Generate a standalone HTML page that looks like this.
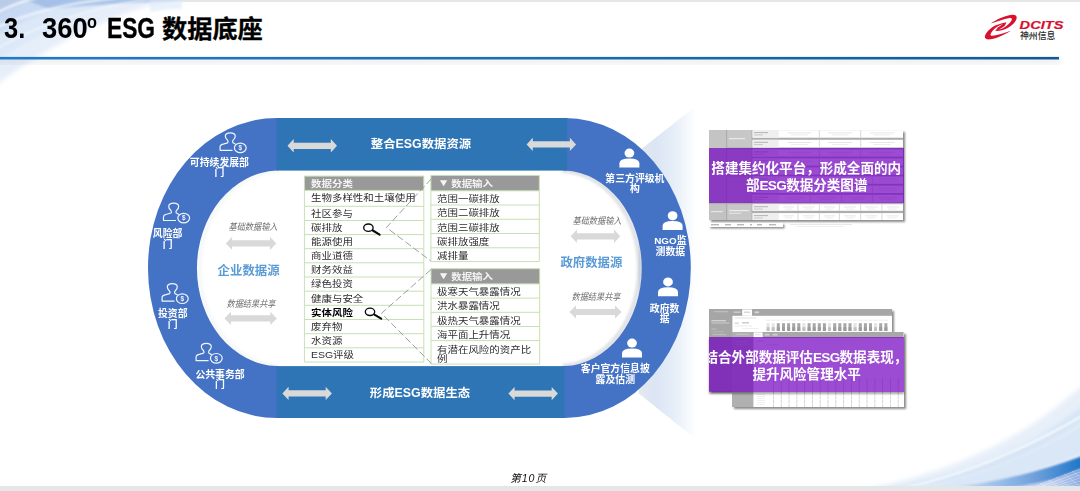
<!DOCTYPE html>
<html lang="zh-CN">
<head>
<meta charset="utf-8">
<title>3. 360º ESG 数据底座</title>
<style>
*{margin:0;padding:0;box-sizing:border-box}
html,body{width:1080px;height:491px;overflow:hidden;background:#fff}
body{position:relative;font-family:"Liberation Sans","Noto Sans CJK SC",sans-serif;color:#000}
.abs{position:absolute}
#bg{position:absolute;left:0;top:0;width:1080px;height:491px}
/* title */
#title span,#title sup{position:absolute;top:0;white-space:nowrap;font-weight:bold;font-size:26px;line-height:30px;transform-origin:0 50%}
/* tables */
.tx{position:absolute;white-space:nowrap;font-size:8.7px;line-height:12px;height:12px;color:#2b2b2b;transform-origin:0 50%;transform:scaleX(1.205)}
.tx.th{color:#f4f4f4;font-weight:bold}
.tx b{color:#000}
.tx.tw{line-height:9.4px;height:auto;transform-origin:0 0}
.tri{font-style:normal;font-size:10.2px;display:inline-block;width:12.6px;text-align:left;position:relative;left:1.2px;top:-.7px;font-weight:normal}
/* arc labels */
.lab{position:absolute;color:#fff;font-weight:bold;font-size:9.85px;line-height:10.6px;margin-top:.6px;text-align:center;white-space:nowrap;transform:translateX(-50%)}
.sm{position:absolute;margin-top:.2px;color:#707070;font-style:italic;font-size:9.3px;line-height:10px;white-space:nowrap;transform:translateX(-50%) scaleX(.875)}
.src{position:absolute;margin-top:.8px;color:#5b9bd5;font-weight:bold;font-size:12.4px;line-height:14px;white-space:nowrap;transform:translateX(-50%)}
.bar{position:absolute;color:#fff;font-weight:bold;font-size:11.9px;line-height:14px;white-space:nowrap;transform:translateX(-50%) scaleX(1.04)}
.pur{position:absolute;background:rgba(112,0,192,.7);color:#fff;font-weight:bold;font-size:13.55px;line-height:17.3px;text-align:center;text-indent:-1px;white-space:nowrap;overflow:hidden}
.e{letter-spacing:-.65px}
.shot{background:#fff;box-shadow:1.5px 1.5px 2px rgba(0,0,0,.45)}
</style>
</head>
<body>
<svg id="bg" width="1080" height="491" viewBox="0 0 1080 491">
<defs>
<linearGradient id="fan" gradientUnits="userSpaceOnUse" x1="638.5" y1="0" x2="696" y2="0">
<stop offset="0" stop-color="#e5e9f0"/><stop offset="0.3" stop-color="#dbe5f4"/><stop offset="0.62" stop-color="#e6eef8"/><stop offset="1" stop-color="#ffffff"/>
</linearGradient>
<linearGradient id="tl" x1="0" y1="1" x2="1" y2="0">
<stop offset="0" stop-color="#d5e4f6"/><stop offset="0.5" stop-color="#c4d9f2"/><stop offset="1" stop-color="#e8f0fa"/>
</linearGradient>
<linearGradient id="br1" x1="0" y1="1" x2="1" y2="0">
<stop offset="0" stop-color="#f3f7fc"/><stop offset="0.6" stop-color="#dfeaf7"/><stop offset="1" stop-color="#eaf1fa"/>
</linearGradient>
<linearGradient id="br2" gradientUnits="userSpaceOnUse" x1="940" y1="0" x2="1080" y2="0">
<stop offset="0" stop-color="#d9e8f7"/><stop offset="0.35" stop-color="#a5c6ec"/><stop offset="0.7" stop-color="#6a9ddb"/><stop offset="1" stop-color="#1f78c8"/>
</linearGradient>
<linearGradient id="br3" gradientUnits="userSpaceOnUse" x1="940" y1="0" x2="1080" y2="0">
<stop offset="0" stop-color="#e6eef9"/><stop offset="0.5" stop-color="#ccd9f1"/><stop offset="1" stop-color="#a9bde6"/>
</linearGradient>
<linearGradient id="br4" gradientUnits="userSpaceOnUse" x1="1030" y1="0" x2="1080" y2="0">
<stop offset="0" stop-color="#e9eefa"/><stop offset="0.5" stop-color="#bccaec"/><stop offset="1" stop-color="#86abe0"/>
</linearGradient>
<linearGradient id="hl" x1="0" y1="0" x2="0" y2="1">
<stop offset="0" stop-color="#000" stop-opacity="0.10"/><stop offset="1" stop-color="#000" stop-opacity="0"/>
</linearGradient>
<filter id="b1" x="-10%" y="-10%" width="120%" height="120%"><feGaussianBlur stdDeviation="1"/></filter>
<filter id="b2" x="-10%" y="-10%" width="120%" height="120%"><feGaussianBlur stdDeviation="2.5"/></filter>
<filter id="b4" x="-10%" y="-10%" width="120%" height="120%"><feGaussianBlur stdDeviation="4"/></filter>
<linearGradient id="hln" gradientUnits="userSpaceOnUse" x1="0" y1="0" x2="1059" y2="0"><stop offset="0" stop-color="#1f7acb"/><stop offset="0.5" stop-color="#1a6db6"/><stop offset="1" stop-color="#0f5a96"/></linearGradient>
</defs>
<!-- top-left swoosh -->
<g filter="url(#b2)">
<path d="M-5 -5H190C125 8 55 40 -5 86Z" fill="#e6eef9"/>
<path d="M-5 -5H150C95 8 40 30 -5 62Z" fill="#dbe8f8"/>
<path d="M-5 -5H95C60 4 25 18 -5 36Z" fill="#c8daf3"/>
<path d="M-5 -5H40C25 0 8 8 -5 16Z" fill="#b9cbe8"/>
</g>
<path d="M22 -3H184V0.8C140 2.2 95 4.5 50 9C40 6 30 2 22 -3Z" fill="#9ab8e4" opacity=".75" filter="url(#b1)"/>
<path d="M150 -2H182V9C170 9 160 10 150 12Z" fill="#dce9f8" opacity=".6" filter="url(#b1)"/>
<g filter="url(#b1)" fill="none" stroke="#fff" stroke-linecap="round">
<path d="M-2 12C12 5 24 1 36 -2" stroke-width="2.2" opacity=".8"/>
<path d="M-2 27C30 12 70 3 115 -2" stroke-width="2.6" opacity=".65"/>
<path d="M-2 48C40 24 90 8 150 -1" stroke-width="2" opacity=".5"/>
</g>
<!-- top gray bar -->
<rect x="182" y="0" width="898" height="2" fill="#e6e6e6"/>
<!-- header line -->
<rect x="-10" y="59" width="1071" height="5" fill="#000" fill-opacity=".065" filter="url(#b2)"/>
<rect x="0" y="56.9" width="1059" height="2.6" fill="url(#hln)"/>
<!-- bottom-right swoosh -->
<g filter="url(#b2)">
<path d="M860 490C935 476 1015 448 1085 383V495H860Z" fill="#e7eff9"/>
<path d="M880 490C945 480 1020 458 1085 404V420C1020 466 950 484 900 490Z" fill="#d3e2f4" opacity=".9"/>
</g>
<g filter="url(#b1)">
<path d="M915 490C975 478 1030 458 1085 424V452C1030 474 985 484 940 490Z" fill="#d9e7f6"/>
<path d="M900 489C960 476 1020 452 1082 416" fill="none" stroke="#fff" stroke-width="1.6"/>
<path d="M935 490C990 484 1040 472 1085 455V495H935Z" fill="url(#br3)"/>
<path d="M935 490C990 484 1040 472 1085 455V470C1045 484 1000 490 960 492Z" fill="url(#br2)"/>
<path d="M1030 489L1085 467V495H1030Z" fill="url(#br4)"/>
</g>
<path d="M1034 487L1080 469M1040 487L1080 472M1046 487L1080 475M1052 487L1080 478M1058 487L1080 481M1064 487L1080 484" stroke="#fff" stroke-width=".6" opacity=".55" fill="none"/>
<path d="M1040 483L1046 487M1048 480L1058 487M1056 477L1070 487M1064 474L1080 486M1072 471L1080 477" stroke="#fff" stroke-width=".5" opacity=".45" fill="none"/>
<!-- bottom gray bar -->
<rect x="0" y="486" width="1080" height="5" fill="#e5e6e8"/>
<!-- fan -->
<path d="M638.5 151.3L700 102.8V442.4L638.5 393.2Z" fill="url(#fan)"/>
<!-- inner halo -->
<g filter="url(#b1)" fill="none" stroke-width="5">
<path d="M276.7 170.6A82.4 97.8 0 0 0 276.7 366.1" stroke="#9aa0ac" stroke-opacity=".08" transform="translate(2.4 0)"/>
<path d="M565 170.6A79.3 97.8 0 0 1 565 366.1" stroke="#8a92a0" stroke-opacity=".26" transform="translate(-2.4 0)"/>
</g>
<!-- left arc -->
<path d="M278 118H276.7A128.7 150 0 0 0 276.7 418H278V366.1H276.7A82.4 97.8 0 0 1 276.7 170.6H278Z" fill="#4472c4"/>
<!-- right arc -->
<path d="M563 118H565A125.8 150 0 0 1 565 418H563V366.1H565A79.3 97.8 0 0 0 565 170.6H563Z" fill="#4472c4"/>
<!-- bars -->
<rect x="276.7" y="118" width="290.5" height="52.6" fill="#2e75b6"/>
<rect x="276.7" y="366.1" width="287.8" height="51.9" fill="#2e75b6"/>
</svg>
<div id="title">
<span style="left:4px;top:12.6px;font-size:29px;transform:scaleX(.88)">3.</span>
<span style="left:41.6px;top:12.6px;font-size:29px;transform:scaleX(.945)">360</span><sup style="left:87.2px;top:7px;font-size:19px;transform:scaleX(.86)">o</sup>
<span style="left:107.2px;top:12.6px;font-size:29px;transform:scaleX(.785);-webkit-text-stroke:.35px #000">ESG</span>
<span style="left:162px;top:14.2px;font-size:25.2px;-webkit-text-stroke:.3px #000">数据底座</span>
</div>
<!-- logo -->
<svg class="abs" style="left:980px;top:10px" width="90" height="36" viewBox="980 10 90 36">
<g transform="translate(980 10) scale(0.07127)" fill="#d8112f">
<path d="M150 190C230 140 340 80 450 68C500 64 522 88 514 120C500 175 430 245 320 282C285 292 245 297 215 295L250 272C275 272 295 268 312 260C365 235 415 190 440 150C456 122 446 108 415 112C330 124 240 165 150 190Z"/>
<path d="M435 290C360 335 250 392 150 412C95 420 60 402 68 370C80 320 140 255 215 218C270 195 330 178 372 175L345 198C320 200 295 208 265 222C215 248 180 285 160 314C140 345 144 364 176 362C260 350 350 320 435 290Z"/>
<path d="M372 175L345 226L262 278L215 295L246 250L322 198Z"/>
</g>
<text x="1019.6" y="29.1" font-family="'Liberation Sans',sans-serif" font-weight="bold" font-style="italic" font-size="11.7" fill="#d8112f" stroke="#d8112f" stroke-width="0.2" textLength="43.8" lengthAdjust="spacingAndGlyphs">DCITS</text>
<text x="1020" y="38.6" font-family="'Liberation Sans','Noto Sans CJK SC',sans-serif" font-weight="500" font-size="8.8" fill="#2a2a2a" textLength="35.4" lengthAdjust="spacingAndGlyphs">神州信息</text>
</svg>
<!-- diagram overlay: arrows, icons, dashed lines -->
<svg class="abs" style="left:0;top:0" width="1080" height="491" viewBox="0 0 1080 491">
<defs>
<path id="arw" d="M0 0L6.2 -6.7V-3.1H43.3V-6.7L49.5 0L43.3 6.7V3.1H6.2V6.7Z"/>
<g id="pc" fill="none" stroke="#f2f5fb" stroke-width="1.2" stroke-linejoin="round" stroke-linecap="round">
<path d="M12.5 17.7H0.5V14.2Q0.5 12 4.4 11.2L8 10.2Q9 9.2 8 7.8Q5.5 5.4 5.7 3.4Q6 0.3 10.7 0.3Q15.4 0.3 15.7 3.4Q15.9 5.4 13.4 7.8Q12.4 9.2 13.4 10.2L15.6 11.4"/>
<ellipse cx="20.7" cy="15.3" rx="5.9" ry="4.8"/>
</g>
<g id="ps" fill="#fff">
<ellipse cx="10" cy="4.5" rx="4.9" ry="4.5"/>
<path d="M0 18.8V14.6Q0 9.9 10 9.9Q20 9.9 20 14.6V18.8Z"/>
</g>
</defs>
<g fill="#d9d9d9">
<use href="#arw" x="287.5" y="145.8"/>
<use href="#arw" x="526.6" y="144.4"/>
<use href="#arw" x="282.4" y="393.4"/>
<use href="#arw" x="508.4" y="393.6"/>
<use href="#arw" x="225.8" y="243.4" transform="translate(225.8 243.4) scale(1.02 .98) translate(-225.8 -243.4)"/>
<use href="#arw" x="224.4" y="318.4" transform="translate(224.4 318.4) scale(1.06 1) translate(-224.4 -318.4)"/>
<use href="#arw" x="570.7" y="236.3"/>
<use href="#arw" x="569.4" y="312" transform="translate(569.4 312) scale(1.055 .96) translate(-569.4 -312)"/>
</g>
<use href="#pc" x="219.6" y="132.6"/>
<use href="#pc" x="163" y="202.8"/>
<use href="#pc" x="161.6" y="283.4"/>
<use href="#pc" x="195.6" y="343"/>
<g font-family="'Liberation Sans',sans-serif" font-size="6.4" font-weight="bold" fill="#eef2fa" text-anchor="middle">
<text x="240.3" y="150.2">$</text><text x="183.7" y="220.4">$</text><text x="182.3" y="301">$</text><text x="216.3" y="360.6">$</text>
</g>
<use href="#ps" x="619.4" y="148.6"/>
<use href="#ps" x="662.6" y="211.2"/>
<use href="#ps" x="658" y="277.4"/>
<use href="#ps" x="622" y="338.6"/>
</svg>
<!-- tables -->
<svg class="abs" style="left:0;top:0" width="1080" height="491" viewBox="0 0 1080 491">
<rect x="304.4" y="176.1" width="119.4" height="185.9" fill="#fff"/>
<rect x="304.4" y="176.1" width="119.4" height="14.3" fill="#999999"/>
<path d="M304.4 176.1H423.8M304.4 190.4H423.8M304.4 206.3H423.8M304.4 220.5H423.8M304.4 234.6H423.8M304.4 248.7H423.8M304.4 262.8H423.8M304.4 277.0H423.8M304.4 291.2H423.8M304.4 305.3H423.8M304.4 319.5H423.8M304.4 333.7H423.8M304.4 347.8H423.8M304.4 362.0H423.8M304.4 176.1V362.0M423.8 176.1V362.0" fill="none" stroke="#c6e0b5" stroke-width="1"/>
<rect x="430.9" y="175.5" width="108.4" height="86.1" fill="#fff"/>
<rect x="430.9" y="175.5" width="108.4" height="15.3" fill="#999999"/>
<path d="M430.9 175.5H539.3M430.9 190.8H539.3M430.9 205.0H539.3M430.9 219.3H539.3M430.9 233.5H539.3M430.9 247.8H539.3M430.9 261.6H539.3M430.9 175.5V261.6M539.3 175.5V261.6" fill="none" stroke="#c6e0b5" stroke-width="1"/>
<rect x="431.0" y="268.7" width="108.7" height="95.4" fill="#fff"/>
<rect x="431.0" y="268.7" width="108.7" height="15.2" fill="#999999"/>
<path d="M431.0 268.7H539.7M431.0 283.9H539.7M431.0 298.1H539.7M431.0 312.3H539.7M431.0 326.5H539.7M431.0 340.6H539.7M431.0 364.1H539.7M431.0 268.7V364.1M539.7 268.7V364.1" fill="none" stroke="#c6e0b5" stroke-width="1"/>
<g fill="none" stroke="#999" stroke-width="0.95" stroke-dasharray="7 3">
<path d="M431.3 178.8L386.4 227.5L430.6 260.8"/>
<path d="M431 269.6L381.5 313.3L431.3 363.5"/>
</g>
<g fill="none" stroke="#0a0a0a" stroke-linecap="round">
<ellipse cx="368.4" cy="227.7" rx="4.7" ry="3.7" stroke-width="1.35"/><path d="M372.8 230.5L379.6 234.7" stroke-width="2.1"/>
<ellipse cx="370" cy="311.8" rx="4.7" ry="3.7" stroke-width="1.35"/><path d="M374.4 314.6L381.2 318.7" stroke-width="2.1"/>
</g>
</svg>
<div class="tx th" style="left:311.1px;top:177.85px">数据分类</div>
<div class="tx" style="left:311.1px;top:191.85px">生物多样性和土壤使用</div>
<div class="tx" style="left:311.1px;top:207.70px">社区参与</div>
<div class="tx" style="left:311.1px;top:221.85px">碳排放</div>
<div class="tx" style="left:311.1px;top:235.95px">能源使用</div>
<div class="tx" style="left:311.1px;top:250.05px">商业道德</div>
<div class="tx" style="left:311.1px;top:264.20px">财务效益</div>
<div class="tx" style="left:311.1px;top:278.40px">绿色投资</div>
<div class="tx" style="left:311.1px;top:292.55px">健康与安全</div>
<div class="tx" style="left:311.1px;top:306.70px"><b>实体风险</b></div>
<div class="tx" style="left:311.1px;top:320.90px">废弃物</div>
<div class="tx" style="left:311.1px;top:335.05px">水资源</div>
<div class="tx" style="left:311.1px;top:349.20px">ESG评级</div>
<div class="tx th" style="left:436.1px;top:177.75px"><i class="tri">▼</i>数据输入</div>
<div class="tx" style="left:437.1px;top:193.10px">范围一碳排放</div>
<div class="tx" style="left:437.1px;top:207.35px">范围二碳排放</div>
<div class="tx" style="left:437.1px;top:221.60px">范围三碳排放</div>
<div class="tx" style="left:437.1px;top:235.85px">碳排放强度</div>
<div class="tx" style="left:437.1px;top:249.90px">减排量</div>
<div class="tx th" style="left:436.1px;top:270.90px"><i class="tri">▼</i>数据输入</div>
<div class="tx" style="left:437.1px;top:286.20px">极寒天气暴露情况</div>
<div class="tx" style="left:437.1px;top:300.40px">洪水暴露情况</div>
<div class="tx" style="left:437.1px;top:314.60px">极热天气暴露情况</div>
<div class="tx" style="left:437.1px;top:328.75px">海平面上升情况</div>
<div class="tx tw" style="left:437.1px;top:345.80px">有潜在风险的资产比<br>例</div>
<!-- right panels -->
<div class="abs shot" id="p1" style="left:709px;top:130px;width:194px;height:90px"><svg width="194" height="90" viewBox="0 0 194 90" style="display:block"><rect x="0.0" y="0.0" width="194.0" height="90.0" fill="#adadad"/><rect x="0.0" y="0.0" width="17.0" height="72.6" fill="#c4c4c4"/><rect x="0.0" y="74.2" width="17.0" height="15.8" fill="#c2c2c2"/><rect x="18.2" y="0.0" width="24.4" height="17.4" fill="#c7c7c7"/><rect x="18.2" y="19.4" width="24.4" height="25.2" fill="#c7c7c7"/><rect x="18.2" y="46.4" width="24.4" height="26.2" fill="#c7c7c7"/><rect x="18.2" y="74.2" width="24.4" height="15.8" fill="#c7c7c7"/><rect x="43.6" y="0.1" width="150.4" height="7.6" fill="#fff"/><rect x="43.6" y="0.1" width="26.2" height="7.6" fill="#efefef"/><rect x="109.9" y="0.1" width="0.9" height="7.6" fill="#d6d6d6"/><rect x="151.3" y="0.1" width="0.9" height="7.6" fill="#d6d6d6"/><rect x="45.0" y="2.1" width="14.0" height="1.0" fill="#b4b4b4"/><rect x="45.0" y="4.5" width="9.0" height="0.9" fill="#c2c2c2"/><rect x="78.6" y="2.5" width="23.4" height="0.8" fill="#e0e0e0"/><rect x="82.1" y="4.5" width="16.4" height="0.8" fill="#e8e8e8"/><rect x="119.0" y="2.5" width="24.1" height="0.8" fill="#e0e0e0"/><rect x="122.7" y="4.5" width="16.9" height="0.8" fill="#e8e8e8"/><rect x="160.7" y="2.5" width="24.8" height="0.8" fill="#e0e0e0"/><rect x="164.4" y="4.5" width="17.3" height="0.8" fill="#e8e8e8"/><rect x="43.6" y="9.8" width="150.4" height="7.6" fill="#fff"/><rect x="43.6" y="9.8" width="26.2" height="7.6" fill="#efefef"/><rect x="109.9" y="9.8" width="0.9" height="7.6" fill="#d6d6d6"/><rect x="151.3" y="9.8" width="0.9" height="7.6" fill="#d6d6d6"/><rect x="45.0" y="11.8" width="14.0" height="1.0" fill="#b4b4b4"/><rect x="45.0" y="14.2" width="9.0" height="0.9" fill="#c2c2c2"/><rect x="78.6" y="12.2" width="23.4" height="0.8" fill="#e0e0e0"/><rect x="82.1" y="14.2" width="16.4" height="0.8" fill="#e8e8e8"/><rect x="119.0" y="12.2" width="24.1" height="0.8" fill="#e0e0e0"/><rect x="122.7" y="14.2" width="16.9" height="0.8" fill="#e8e8e8"/><rect x="160.7" y="12.2" width="24.8" height="0.8" fill="#e0e0e0"/><rect x="164.4" y="14.2" width="17.3" height="0.8" fill="#e8e8e8"/><rect x="43.6" y="19.4" width="150.4" height="7.2" fill="#fff"/><rect x="43.6" y="19.4" width="26.2" height="7.2" fill="#efefef"/><rect x="109.9" y="19.4" width="0.9" height="7.2" fill="#d6d6d6"/><rect x="151.3" y="19.4" width="0.9" height="7.2" fill="#d6d6d6"/><rect x="45.0" y="21.4" width="14.0" height="1.0" fill="#b4b4b4"/><rect x="45.0" y="23.8" width="9.0" height="0.9" fill="#c2c2c2"/><rect x="78.6" y="21.8" width="23.4" height="0.8" fill="#e0e0e0"/><rect x="82.1" y="23.8" width="16.4" height="0.8" fill="#e8e8e8"/><rect x="119.0" y="21.8" width="24.1" height="0.8" fill="#e0e0e0"/><rect x="122.7" y="23.8" width="16.9" height="0.8" fill="#e8e8e8"/><rect x="160.7" y="21.8" width="24.8" height="0.8" fill="#e0e0e0"/><rect x="164.4" y="23.8" width="17.3" height="0.8" fill="#e8e8e8"/><rect x="43.6" y="28.4" width="150.4" height="7.2" fill="#fff"/><rect x="43.6" y="28.4" width="26.2" height="7.2" fill="#efefef"/><rect x="109.9" y="28.4" width="0.9" height="7.2" fill="#d6d6d6"/><rect x="151.3" y="28.4" width="0.9" height="7.2" fill="#d6d6d6"/><rect x="45.0" y="30.4" width="14.0" height="1.0" fill="#b4b4b4"/><rect x="45.0" y="32.8" width="9.0" height="0.9" fill="#c2c2c2"/><rect x="78.6" y="30.8" width="23.4" height="0.8" fill="#e0e0e0"/><rect x="82.1" y="32.8" width="16.4" height="0.8" fill="#e8e8e8"/><rect x="119.0" y="30.8" width="24.1" height="0.8" fill="#e0e0e0"/><rect x="122.7" y="32.8" width="16.9" height="0.8" fill="#e8e8e8"/><rect x="160.7" y="30.8" width="24.8" height="0.8" fill="#e0e0e0"/><rect x="164.4" y="32.8" width="17.3" height="0.8" fill="#e8e8e8"/><rect x="43.6" y="37.4" width="150.4" height="7.2" fill="#fff"/><rect x="43.6" y="37.4" width="26.2" height="7.2" fill="#efefef"/><rect x="88.5" y="37.4" width="0.9" height="7.2" fill="#d6d6d6"/><rect x="109.9" y="37.4" width="0.9" height="7.2" fill="#d6d6d6"/><rect x="129.9" y="37.4" width="0.9" height="7.2" fill="#d6d6d6"/><rect x="151.3" y="37.4" width="0.9" height="7.2" fill="#d6d6d6"/><rect x="172.5" y="37.4" width="0.9" height="7.2" fill="#d6d6d6"/><rect x="45.0" y="39.4" width="14.0" height="1.0" fill="#b4b4b4"/><rect x="45.0" y="41.8" width="9.0" height="0.9" fill="#c2c2c2"/><rect x="74.3" y="39.8" width="10.6" height="0.8" fill="#e0e0e0"/><rect x="75.9" y="41.8" width="7.4" height="0.8" fill="#e8e8e8"/><rect x="93.6" y="39.8" width="12.1" height="0.8" fill="#e0e0e0"/><rect x="95.5" y="41.8" width="8.5" height="0.8" fill="#e8e8e8"/><rect x="114.8" y="39.8" width="11.4" height="0.8" fill="#e0e0e0"/><rect x="116.5" y="41.8" width="8.0" height="0.8" fill="#e8e8e8"/><rect x="135.0" y="39.8" width="12.1" height="0.8" fill="#e0e0e0"/><rect x="136.9" y="41.8" width="8.5" height="0.8" fill="#e8e8e8"/><rect x="156.4" y="39.8" width="12.1" height="0.8" fill="#e0e0e0"/><rect x="158.2" y="41.8" width="8.4" height="0.8" fill="#e8e8e8"/><rect x="177.6" y="39.8" width="12.1" height="0.8" fill="#e0e0e0"/><rect x="179.4" y="41.8" width="8.4" height="0.8" fill="#e8e8e8"/><rect x="43.6" y="46.4" width="150.4" height="7.4" fill="#fff"/><rect x="43.6" y="46.4" width="26.2" height="7.4" fill="#efefef"/><rect x="100.9" y="46.4" width="0.9" height="7.4" fill="#d6d6d6"/><rect x="131.9" y="46.4" width="0.9" height="7.4" fill="#d6d6d6"/><rect x="162.9" y="46.4" width="0.9" height="7.4" fill="#d6d6d6"/><rect x="45.0" y="48.4" width="14.0" height="1.0" fill="#b4b4b4"/><rect x="45.0" y="50.8" width="9.0" height="0.9" fill="#c2c2c2"/><rect x="76.8" y="48.8" width="18.1" height="0.8" fill="#e0e0e0"/><rect x="79.6" y="50.8" width="12.7" height="0.8" fill="#e8e8e8"/><rect x="108.0" y="48.8" width="18.0" height="0.8" fill="#e0e0e0"/><rect x="110.7" y="50.8" width="12.6" height="0.8" fill="#e8e8e8"/><rect x="139.0" y="48.8" width="18.0" height="0.8" fill="#e0e0e0"/><rect x="141.7" y="50.8" width="12.6" height="0.8" fill="#e8e8e8"/><rect x="169.9" y="48.8" width="17.8" height="0.8" fill="#e0e0e0"/><rect x="172.6" y="50.8" width="12.5" height="0.8" fill="#e8e8e8"/><rect x="43.6" y="55.6" width="150.4" height="7.4" fill="#fff"/><rect x="43.6" y="55.6" width="26.2" height="7.4" fill="#efefef"/><rect x="100.9" y="55.6" width="0.9" height="7.4" fill="#d6d6d6"/><rect x="131.9" y="55.6" width="0.9" height="7.4" fill="#d6d6d6"/><rect x="162.9" y="55.6" width="0.9" height="7.4" fill="#d6d6d6"/><rect x="45.0" y="57.6" width="14.0" height="1.0" fill="#b4b4b4"/><rect x="45.0" y="60.0" width="9.0" height="0.9" fill="#c2c2c2"/><rect x="76.8" y="58.0" width="18.1" height="0.8" fill="#e0e0e0"/><rect x="79.6" y="60.0" width="12.7" height="0.8" fill="#e8e8e8"/><rect x="108.0" y="58.0" width="18.0" height="0.8" fill="#e0e0e0"/><rect x="110.7" y="60.0" width="12.6" height="0.8" fill="#e8e8e8"/><rect x="139.0" y="58.0" width="18.0" height="0.8" fill="#e0e0e0"/><rect x="141.7" y="60.0" width="12.6" height="0.8" fill="#e8e8e8"/><rect x="169.9" y="58.0" width="17.8" height="0.8" fill="#e0e0e0"/><rect x="172.6" y="60.0" width="12.5" height="0.8" fill="#e8e8e8"/><rect x="43.6" y="64.8" width="150.4" height="7.8" fill="#fff"/><rect x="43.6" y="64.8" width="26.2" height="7.8" fill="#efefef"/><rect x="100.9" y="64.8" width="0.9" height="7.8" fill="#d6d6d6"/><rect x="131.9" y="64.8" width="0.9" height="7.8" fill="#d6d6d6"/><rect x="162.9" y="64.8" width="0.9" height="7.8" fill="#d6d6d6"/><rect x="45.0" y="66.8" width="14.0" height="1.0" fill="#b4b4b4"/><rect x="45.0" y="69.2" width="9.0" height="0.9" fill="#c2c2c2"/><rect x="76.8" y="67.2" width="18.1" height="0.8" fill="#e0e0e0"/><rect x="79.6" y="69.2" width="12.7" height="0.8" fill="#e8e8e8"/><rect x="108.0" y="67.2" width="18.0" height="0.8" fill="#e0e0e0"/><rect x="110.7" y="69.2" width="12.6" height="0.8" fill="#e8e8e8"/><rect x="139.0" y="67.2" width="18.0" height="0.8" fill="#e0e0e0"/><rect x="141.7" y="69.2" width="12.6" height="0.8" fill="#e8e8e8"/><rect x="169.9" y="67.2" width="17.8" height="0.8" fill="#e0e0e0"/><rect x="172.6" y="69.2" width="12.5" height="0.8" fill="#e8e8e8"/><rect x="43.6" y="74.2" width="150.4" height="6.6" fill="#fff"/><rect x="43.6" y="74.2" width="26.2" height="6.6" fill="#efefef"/><rect x="88.5" y="74.2" width="0.9" height="6.6" fill="#d6d6d6"/><rect x="109.9" y="74.2" width="0.9" height="6.6" fill="#d6d6d6"/><rect x="129.9" y="74.2" width="0.9" height="6.6" fill="#d6d6d6"/><rect x="151.3" y="74.2" width="0.9" height="6.6" fill="#d6d6d6"/><rect x="172.5" y="74.2" width="0.9" height="6.6" fill="#d6d6d6"/><rect x="45.0" y="76.2" width="14.0" height="1.0" fill="#b4b4b4"/><rect x="45.0" y="78.6" width="9.0" height="0.9" fill="#c2c2c2"/><rect x="74.3" y="76.6" width="10.6" height="0.8" fill="#e0e0e0"/><rect x="75.9" y="78.6" width="7.4" height="0.8" fill="#e8e8e8"/><rect x="93.6" y="76.6" width="12.1" height="0.8" fill="#e0e0e0"/><rect x="95.5" y="78.6" width="8.5" height="0.8" fill="#e8e8e8"/><rect x="114.8" y="76.6" width="11.4" height="0.8" fill="#e0e0e0"/><rect x="116.5" y="78.6" width="8.0" height="0.8" fill="#e8e8e8"/><rect x="135.0" y="76.6" width="12.1" height="0.8" fill="#e0e0e0"/><rect x="136.9" y="78.6" width="8.5" height="0.8" fill="#e8e8e8"/><rect x="156.4" y="76.6" width="12.1" height="0.8" fill="#e0e0e0"/><rect x="158.2" y="78.6" width="8.4" height="0.8" fill="#e8e8e8"/><rect x="177.6" y="76.6" width="12.1" height="0.8" fill="#e0e0e0"/><rect x="179.4" y="78.6" width="8.4" height="0.8" fill="#e8e8e8"/><rect x="43.6" y="83.1" width="150.4" height="6.9" fill="#fff"/><rect x="43.6" y="83.1" width="26.2" height="6.9" fill="#efefef"/><rect x="88.5" y="83.1" width="0.9" height="6.9" fill="#d6d6d6"/><rect x="109.9" y="83.1" width="0.9" height="6.9" fill="#d6d6d6"/><rect x="129.9" y="83.1" width="0.9" height="6.9" fill="#d6d6d6"/><rect x="151.3" y="83.1" width="0.9" height="6.9" fill="#d6d6d6"/><rect x="172.5" y="83.1" width="0.9" height="6.9" fill="#d6d6d6"/><rect x="45.0" y="85.1" width="14.0" height="1.0" fill="#b4b4b4"/><rect x="45.0" y="87.5" width="9.0" height="0.9" fill="#c2c2c2"/><rect x="74.3" y="85.5" width="10.6" height="0.8" fill="#e0e0e0"/><rect x="75.9" y="87.5" width="7.4" height="0.8" fill="#e8e8e8"/><rect x="93.6" y="85.5" width="12.1" height="0.8" fill="#e0e0e0"/><rect x="95.5" y="87.5" width="8.5" height="0.8" fill="#e8e8e8"/><rect x="114.8" y="85.5" width="11.4" height="0.8" fill="#e0e0e0"/><rect x="116.5" y="87.5" width="8.0" height="0.8" fill="#e8e8e8"/><rect x="135.0" y="85.5" width="12.1" height="0.8" fill="#e0e0e0"/><rect x="136.9" y="87.5" width="8.5" height="0.8" fill="#e8e8e8"/><rect x="156.4" y="85.5" width="12.1" height="0.8" fill="#e0e0e0"/><rect x="158.2" y="87.5" width="8.4" height="0.8" fill="#e8e8e8"/><rect x="177.6" y="85.5" width="12.1" height="0.8" fill="#e0e0e0"/><rect x="179.4" y="87.5" width="8.4" height="0.8" fill="#e8e8e8"/><rect x="20.0" y="8.0" width="16.0" height="1.2" fill="#e8e8e8"/><rect x="20.0" y="80.0" width="20.0" height="1.2" fill="#ececec"/><rect x="20.0" y="82.8" width="12.0" height="1.0" fill="#e6e6e6"/><rect x="2.0" y="81.0" width="12.0" height="1.2" fill="#e6e6e6"/></svg></div>
<div class="abs shot" id="p1b" style="left:709.4px;top:223.4px;width:74px;height:3.8px"><svg width="74" height="3.8" viewBox="0 0 74 3.8" style="display:block"><rect x="0.0" y="0.0" width="74.0" height="3.8" fill="#fff"/><rect x="2.0" y="1.3" width="8.0" height="1.0" fill="#9a9a9a"/><rect x="16.0" y="1.3" width="6.0" height="1.0" fill="#9a9a9a"/><rect x="28.0" y="1.3" width="7.0" height="1.0" fill="#9a9a9a"/><rect x="41.0" y="1.3" width="2.0" height="1.0" fill="#9a9a9a"/><rect x="48.0" y="1.3" width="5.0" height="1.0" fill="#9a9a9a"/><rect x="60.0" y="1.3" width="7.0" height="1.0" fill="#9a9a9a"/></svg></div>
<div class="abs" style="left:790px;top:224.2px;width:62px;height:1px;background:#e9e9e9"></div>
<div class="abs" style="left:796px;top:226.2px;width:48px;height:1px;background:#efefef"></div>
<div class="pur" style="left:709px;top:148.1px;width:195.4px;height:55.1px;padding-top:11.5px">搭建集约化平台，形成全面的内<br>部<span class="e">ESG</span>数据分类图谱</div>
<div class="abs shot" id="p2a" style="left:709px;top:309.3px;width:183.4px;height:82px"><svg width="183.4" height="82" viewBox="0 0 183.4 82" style="display:block"><rect x="0.0" y="0.0" width="183.4" height="82.0" fill="#fff"/><rect x="0.0" y="0.0" width="183.4" height="6.8" fill="#a6a6a6"/><rect x="0.0" y="0.0" width="23.4" height="82.0" fill="#a6a6a6"/><rect x="33.2" y="0.4" width="9.8" height="6.4" fill="#fff"/><rect x="35.0" y="2.6" width="6.0" height="1.2" fill="#d0d0d0"/><rect x="5.0" y="2.2" width="14.0" height="1.0" fill="#c4c4c4"/><rect x="24.6" y="2.4" width="7.0" height="1.6" fill="#c9c9c9"/><rect x="45.6" y="2.4" width="4.4" height="1.8" fill="#d6d6d6"/><rect x="2.4" y="11.0" width="14.6" height="1.4" fill="#d2d2d2"/><rect x="2.4" y="13.4" width="18.2" height="1.2" fill="#c6c6c6"/><rect x="2.4" y="19.6" width="5.2" height="1.0" fill="#c0c0c0"/><rect x="3.4" y="22.4" width="11.6" height="1.0" fill="#b8b8b8"/><rect x="3.4" y="25.0" width="14.2" height="1.2" fill="#bdbdbd"/><rect x="25.6" y="8.6" width="21.4" height="0.8" fill="#d9d9d9"/><rect x="25.6" y="13.6" width="4.4" height="1.0" fill="#c8c8c8"/><rect x="33.0" y="13.2" width="7.0" height="1.2" fill="#c0c0c0"/><rect x="25.6" y="16.6" width="17.4" height="0.8" fill="#e6e6e6"/><rect x="33.0" y="19.0" width="17.0" height="0.8" fill="#ececec"/><rect x="57.6" y="14.2" width="3.0" height="7.8" fill="#e4e4e4"/><rect x="57.6" y="18.2" width="3.0" height="3.8" fill="#c0c0c0"/><rect x="57.0" y="10.8" width="4.2" height="0.7" fill="#e2e2e2"/><rect x="62.7" y="14.2" width="3.0" height="7.8" fill="#e4e4e4"/><rect x="62.7" y="18.2" width="3.0" height="3.8" fill="#c0c0c0"/><rect x="62.1" y="10.8" width="4.2" height="0.7" fill="#e2e2e2"/><rect x="67.8" y="14.2" width="3.0" height="7.8" fill="#a8a8a8"/><rect x="67.8" y="18.2" width="3.0" height="3.8" fill="#9c9c9c"/><rect x="67.2" y="10.8" width="4.2" height="0.7" fill="#e2e2e2"/><rect x="73.0" y="14.2" width="3.0" height="7.8" fill="#a8a8a8"/><rect x="73.0" y="18.2" width="3.0" height="3.8" fill="#9c9c9c"/><rect x="72.4" y="10.8" width="4.2" height="0.7" fill="#e2e2e2"/><rect x="78.1" y="14.2" width="3.0" height="7.8" fill="#a8a8a8"/><rect x="78.1" y="18.2" width="3.0" height="3.8" fill="#9c9c9c"/><rect x="77.5" y="10.8" width="4.2" height="0.7" fill="#e2e2e2"/><rect x="83.2" y="14.2" width="3.0" height="7.8" fill="#a8a8a8"/><rect x="83.2" y="18.2" width="3.0" height="3.8" fill="#9c9c9c"/><rect x="82.6" y="10.8" width="4.2" height="0.7" fill="#e2e2e2"/><rect x="88.3" y="14.2" width="3.0" height="7.8" fill="#a8a8a8"/><rect x="88.3" y="18.2" width="3.0" height="3.8" fill="#9c9c9c"/><rect x="87.7" y="10.8" width="4.2" height="0.7" fill="#e2e2e2"/><rect x="93.4" y="14.2" width="3.0" height="7.8" fill="#e4e4e4"/><rect x="93.4" y="18.2" width="3.0" height="3.8" fill="#c0c0c0"/><rect x="92.8" y="10.8" width="4.2" height="0.7" fill="#e2e2e2"/><rect x="98.6" y="14.2" width="3.0" height="7.8" fill="#a8a8a8"/><rect x="98.6" y="18.2" width="3.0" height="3.8" fill="#9c9c9c"/><rect x="98.0" y="10.8" width="4.2" height="0.7" fill="#e2e2e2"/><rect x="103.7" y="14.2" width="3.0" height="7.8" fill="#a8a8a8"/><rect x="103.7" y="18.2" width="3.0" height="3.8" fill="#9c9c9c"/><rect x="103.1" y="10.8" width="4.2" height="0.7" fill="#e2e2e2"/><rect x="108.8" y="14.2" width="3.0" height="7.8" fill="#a8a8a8"/><rect x="108.8" y="18.2" width="3.0" height="3.8" fill="#9c9c9c"/><rect x="108.2" y="10.8" width="4.2" height="0.7" fill="#e2e2e2"/><rect x="113.9" y="14.2" width="3.0" height="7.8" fill="#a8a8a8"/><rect x="113.9" y="18.2" width="3.0" height="3.8" fill="#9c9c9c"/><rect x="113.3" y="10.8" width="4.2" height="0.7" fill="#e2e2e2"/><rect x="119.0" y="14.2" width="3.0" height="7.8" fill="#e4e4e4"/><rect x="119.0" y="18.2" width="3.0" height="3.8" fill="#c0c0c0"/><rect x="118.4" y="10.8" width="4.2" height="0.7" fill="#e2e2e2"/><rect x="124.2" y="14.2" width="3.0" height="7.8" fill="#a8a8a8"/><rect x="124.2" y="18.2" width="3.0" height="3.8" fill="#9c9c9c"/><rect x="123.6" y="10.8" width="4.2" height="0.7" fill="#e2e2e2"/><rect x="129.3" y="14.2" width="3.0" height="7.8" fill="#a8a8a8"/><rect x="129.3" y="18.2" width="3.0" height="3.8" fill="#9c9c9c"/><rect x="128.7" y="10.8" width="4.2" height="0.7" fill="#e2e2e2"/><rect x="134.4" y="14.2" width="3.0" height="7.8" fill="#a8a8a8"/><rect x="134.4" y="18.2" width="3.0" height="3.8" fill="#9c9c9c"/><rect x="133.8" y="10.8" width="4.2" height="0.7" fill="#e2e2e2"/><rect x="139.5" y="14.2" width="3.0" height="7.8" fill="#a8a8a8"/><rect x="139.5" y="18.2" width="3.0" height="3.8" fill="#9c9c9c"/><rect x="138.9" y="10.8" width="4.2" height="0.7" fill="#e2e2e2"/><rect x="144.6" y="14.2" width="3.0" height="7.8" fill="#e4e4e4"/><rect x="144.6" y="18.2" width="3.0" height="3.8" fill="#c0c0c0"/><rect x="144.0" y="10.8" width="4.2" height="0.7" fill="#e2e2e2"/><rect x="149.8" y="14.2" width="3.0" height="7.8" fill="#a8a8a8"/><rect x="149.8" y="18.2" width="3.0" height="3.8" fill="#9c9c9c"/><rect x="149.2" y="10.8" width="4.2" height="0.7" fill="#e2e2e2"/><rect x="154.9" y="14.2" width="3.0" height="7.8" fill="#a8a8a8"/><rect x="154.9" y="18.2" width="3.0" height="3.8" fill="#9c9c9c"/><rect x="154.3" y="10.8" width="4.2" height="0.7" fill="#e2e2e2"/><rect x="160.0" y="14.2" width="3.0" height="7.8" fill="#a8a8a8"/><rect x="160.0" y="18.2" width="3.0" height="3.8" fill="#9c9c9c"/><rect x="159.4" y="10.8" width="4.2" height="0.7" fill="#e2e2e2"/><rect x="165.1" y="14.2" width="3.0" height="7.8" fill="#e4e4e4"/><rect x="165.1" y="18.2" width="3.0" height="3.8" fill="#c0c0c0"/><rect x="164.5" y="10.8" width="4.2" height="0.7" fill="#e2e2e2"/><rect x="170.2" y="14.2" width="3.0" height="7.8" fill="#a8a8a8"/><rect x="170.2" y="18.2" width="3.0" height="3.8" fill="#9c9c9c"/><rect x="169.6" y="10.8" width="4.2" height="0.7" fill="#e2e2e2"/><rect x="175.4" y="14.2" width="3.0" height="7.8" fill="#a8a8a8"/><rect x="175.4" y="18.2" width="3.0" height="3.8" fill="#9c9c9c"/><rect x="174.8" y="10.8" width="4.2" height="0.7" fill="#e2e2e2"/></svg></div>
<div class="abs shot" id="p2b" style="left:732.4px;top:331.5px;width:171.6px;height:75.4px"><svg width="171.6" height="75.4" viewBox="0 0 171.6 75.4" style="display:block"><rect x="0.0" y="0.0" width="171.6" height="75.4" fill="#fff"/><rect x="0.0" y="0.0" width="171.6" height="5.8" fill="#a8a8a8"/><rect x="0.0" y="0.0" width="21.4" height="75.4" fill="#b0b0b0"/><rect x="21.6" y="0.4" width="9.0" height="5.4" fill="#fff"/><rect x="23.0" y="2.2" width="6.0" height="1.0" fill="#dcdcdc"/><rect x="4.0" y="1.8" width="13.0" height="1.0" fill="#c8c8c8"/><rect x="32.6" y="1.8" width="5.0" height="1.8" fill="#cfcfcf"/><rect x="40.6" y="1.8" width="5.0" height="1.8" fill="#cfcfcf"/><rect x="3.0" y="9.0" width="12.0" height="1.0" fill="#c6c6c6"/><rect x="3.0" y="11.6" width="15.0" height="1.0" fill="#bebebe"/><rect x="41.0" y="46.0" width="0.9" height="29.4" fill="#d2d2d2"/><rect x="48.8" y="46.0" width="0.9" height="29.4" fill="#d2d2d2"/><rect x="56.6" y="46.0" width="0.9" height="29.4" fill="#d2d2d2"/><rect x="64.4" y="46.0" width="0.9" height="29.4" fill="#d2d2d2"/><rect x="72.2" y="46.0" width="0.9" height="29.4" fill="#d2d2d2"/><rect x="80.0" y="46.0" width="0.9" height="29.4" fill="#d2d2d2"/><rect x="87.8" y="46.0" width="0.9" height="29.4" fill="#d2d2d2"/><rect x="95.6" y="46.0" width="0.9" height="29.4" fill="#d2d2d2"/><rect x="103.4" y="46.0" width="0.9" height="29.4" fill="#d2d2d2"/><rect x="111.2" y="46.0" width="0.9" height="29.4" fill="#d2d2d2"/><rect x="119.0" y="46.0" width="0.9" height="29.4" fill="#d2d2d2"/><rect x="126.8" y="46.0" width="0.9" height="29.4" fill="#d2d2d2"/><rect x="134.6" y="46.0" width="0.9" height="29.4" fill="#d2d2d2"/><rect x="142.4" y="46.0" width="0.9" height="29.4" fill="#d2d2d2"/><rect x="150.2" y="46.0" width="0.9" height="29.4" fill="#d2d2d2"/><rect x="158.0" y="46.0" width="0.9" height="29.4" fill="#d2d2d2"/><rect x="165.8" y="46.0" width="0.9" height="29.4" fill="#d2d2d2"/><rect x="41.0" y="63.0" width="130.6" height="0.7" fill="#ffffff" opacity="0.8"/><rect x="41.0" y="67.0" width="130.6" height="0.7" fill="#ffffff" opacity="0.8"/><rect x="41.0" y="71.0" width="130.6" height="0.7" fill="#ffffff" opacity="0.8"/><rect x="25.0" y="62.0" width="8.0" height="0.6" fill="#e6e6e6"/><rect x="25.0" y="64.0" width="8.0" height="0.6" fill="#e6e6e6"/><rect x="25.0" y="66.0" width="8.0" height="0.6" fill="#e6e6e6"/><rect x="25.0" y="68.0" width="8.0" height="0.6" fill="#e6e6e6"/><rect x="25.0" y="70.0" width="8.0" height="0.6" fill="#e6e6e6"/><rect x="25.0" y="72.0" width="8.0" height="0.6" fill="#e6e6e6"/><rect x="25.0" y="8.4" width="7.0" height="1.0" fill="#d6d6d6"/><rect x="35.0" y="12.4" width="12.0" height="0.8" fill="#dcdcdc"/><rect x="80.0" y="8.0" width="50.0" height="0.6" fill="#ededed"/></svg></div>
<div class="pur" style="left:709px;top:337.1px;width:195.2px;height:55.1px;padding-top:11.5px;box-shadow:0 1.5px 2px rgba(0,0,0,.35)"><span style="display:inline-block;margin:0 -10px;text-indent:0;position:relative;left:-.2px">结合外部数据评估<span class="e">ESG</span>数据表现，</span><br>提升风险管理水平</div>
<!-- bar titles -->
<div class="bar" style="left:420.7px;top:136.6px">整合ESG数据资源</div>
<div class="bar" style="left:420.4px;top:385.6px">形成ESG数据生态</div>
<!-- arc labels -->
<div class="lab" style="left:219.4px;top:157.2px">可持续发展部<br>门</div>
<div class="lab" style="left:167.6px;top:228.4px">风险部<br>门</div>
<div class="lab" style="left:172.8px;top:308.4px">投资部<br>门</div>
<div class="lab" style="left:220px;top:369px">公共事务部<br>门</div>
<div class="lab" style="left:634.9px;top:173px">第三方评级机<br>构</div>
<div class="lab" style="left:670.4px;top:235.6px">NGO监<br>测数据</div>
<div class="lab" style="left:664.6px;top:303px">政府数<br>据</div>
<div class="lab" style="left:615.3px;top:363.6px">客户官方信息披<br>露及估测</div>
<!-- inner texts -->
<div class="sm" style="left:252.6px;top:221.6px">基础数据输入</div>
<div class="src" style="left:248.6px;top:263.6px">企业数据源</div>
<div class="sm" style="left:251.2px;top:298.4px">数据结果共享</div>
<div class="sm" style="left:597.2px;top:215.4px">基础数据输入</div>
<div class="src" style="left:591.4px;top:255.2px">政府数据源</div>
<div class="sm" style="left:596px;top:292.2px">数据结果共享</div>
<!-- footer -->
<div class="abs" id="pg" style="left:528.6px;top:471.6px;transform:translateX(-50%);letter-spacing:.9px;font-size:10.6px;font-style:italic;line-height:12px;white-space:nowrap;color:#111">第10页</div>
</body>
</html>
